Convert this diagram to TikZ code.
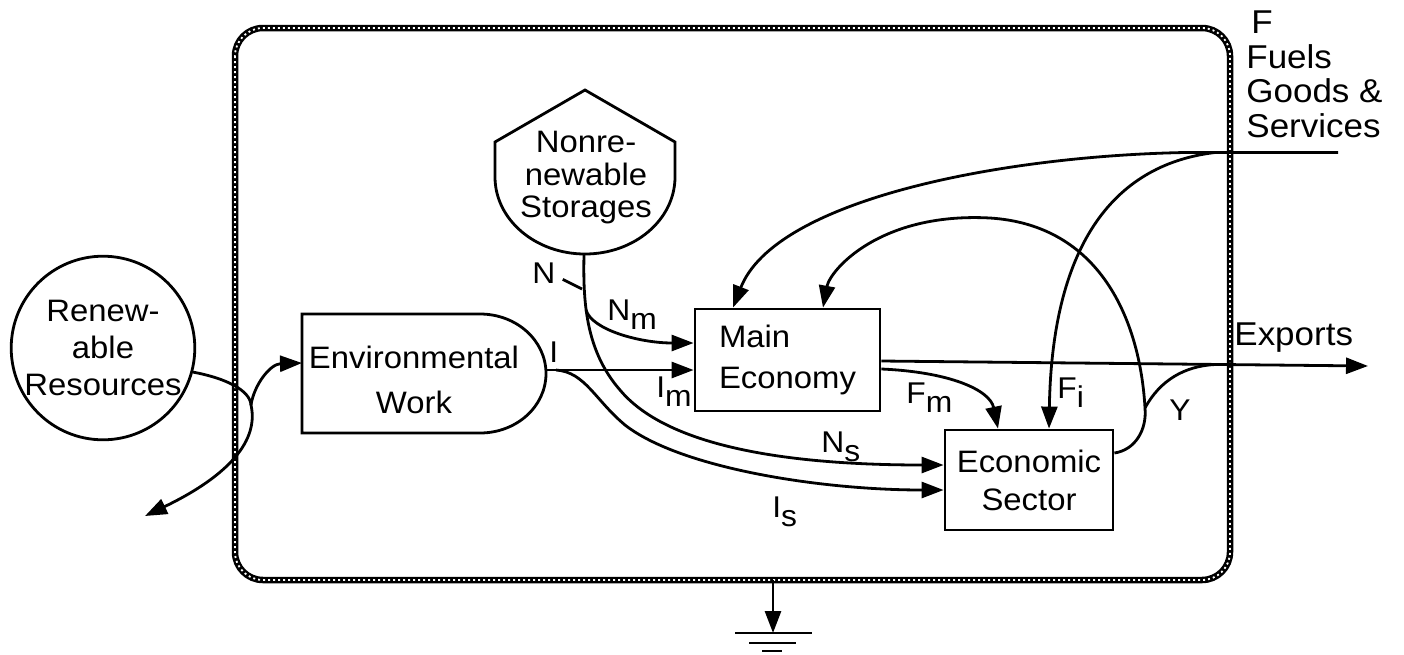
\documentclass[tikz,border=0pt]{standalone}
\usepackage{fontspec}
\setmainfont{Liberation Sans}[FakeStretch=1.06]
\usetikzlibrary{arrows.meta}
\newcommand{\lowsub}[1]{\raisebox{-0.33em}{#1}}
\begin{document}
\begin{tikzpicture}[x=1pt,y=-1pt,line width=2.8pt,
  flow/.style={-{Triangle[length=22pt,width=16pt]}},
  box/.style={draw,rectangle,inner sep=0pt},
  lbl/.style={font=\fontsize{30}{36}\selectfont,inner sep=0pt,anchor=base west},
  outlbl/.style={font=\fontsize{33}{36}\selectfont,inner sep=0pt,anchor=base west},
  fence/.style={line width=6.5pt,rounded corners=28pt},
  fencegap/.style={white,line width=1.8pt,dash pattern=on 2pt off 3pt,rounded corners=28pt}]
\useasboundingbox (0,0) rectangle (1404,654);

% system boundary
\draw[fence] (235,28) rectangle (1230,580);
\draw[fencegap] (235,28) rectangle (1230,580);

% sources, tanks and units
\node[circle,draw,minimum size=182pt,inner sep=0pt,align=center,
      font=\fontsize{31}{37}\selectfont] (ren) at (103,348) {Renew-\\able\\Resources};

\draw (480,314) -- (302,314) -- (302,433) -- (480,433)
  .. controls (516.5,433) and (546,406.5) .. (546,373.5)
  .. controls (546,340.5) and (516.5,314) .. (480,314) -- cycle;
\node[align=center,font=\fontsize{31}{45}\selectfont] (env) at (414,380) {Environmental\\Work};
\coordinate (envIn) at (302,363);
\coordinate (envE) at (546,370);

\draw (495,142) -- (585,90) -- (675,142) -- (675,177)
  .. controls (675,219.5) and (634.7,254) .. (585,254)
  .. controls (535.3,254) and (495,219.5) .. (495,177) -- cycle;
\node[align=center,font=\fontsize{31}{32.5}\selectfont] (stor) at (586,178) {Nonre-\\newable\\Storages};
\coordinate (storB) at (584,254);

\node[box,minimum width=185pt,minimum height=102pt,align=left,
      font=\fontsize{31}{41}\selectfont] (main) at (787.5,360) {Main\\Economy};
\node[box,minimum width=168pt,minimum height=100pt,align=center,
      font=\fontsize{31}{38}\selectfont] (econ) at (1029,480) {Economic\\Sector};

% free ends and branch points
\coordinate (back) at (145,516);
\coordinate (rsplit) at (251,405);
\coordinate (Isplit) at (556,370);
\coordinate (Nsplit) at (586,310);
\coordinate (Ntick) at (582,289);
\coordinate (Ysplit) at (1145,408);
\coordinate (Yjoin) at (1215,364.5);
\coordinate (Fin) at (1338,152.5);
\coordinate (Fjoin) at (1215,152.5);
\coordinate (exp) at (1368,366);
\coordinate (sink) at (773,580);
\coordinate (gnd) at (773,633);

% renewable inflow and its reflected part
\draw (ren.-15) .. controls (225,378) and (250,390) .. (rsplit);
\draw[flow] (rsplit) .. controls (260,445) and (220,480) .. (back);
\draw[flow] (rsplit) .. controls (254,385) and (270,364) .. (envIn);

% environmental work I
\draw[flow] (envE) -- ([yshift=-10pt]main.west);
\draw[flow] (Isplit) .. controls (585,372) and (595,400) .. (625,425)
  .. controls (680,468) and (820,490) .. ([yshift=-10pt]econ.west);

% nonrenewable N
\draw[flow] (storB) .. controls (583,300) and (585,350) .. (620,390)
  .. controls (670,450) and (800,465) .. ([yshift=15pt]econ.west);
\draw[flow] (Nsplit) .. controls (592,330) and (640,343) .. ([yshift=17pt]main.west);

% purchased inputs F
\draw[flow] (Fin) -- (1185,152.5) .. controls (1000,156) and (775,200) .. ([xshift=-54.5pt]main.north);
\draw[flow] (Fjoin) .. controls (1110,165) and (1052,250) .. ([xshift=20pt]econ.north);

% main economy outputs
\draw[flow] ([yshift=-1pt]main.east) -- (exp);
\draw[flow] ([yshift=-9pt]main.east) .. controls (950,372) and (990,390) .. ([xshift=-31pt]econ.north);

% sector feedback and yield
\draw ([yshift=27pt]econ.east) .. controls (1135,450) and (1147,430) .. (Ysplit);
\draw[flow] (Ysplit) .. controls (1140,320) and (1100,225) .. (990,218)
  .. controls (880,212) and (830,270) .. ([xshift=35.5pt]main.north);
\draw (Ysplit) .. controls (1160,380) and (1185,366) .. (Yjoin);

% heat sink
\draw[flow] (sink) -- (gnd);
\draw ([xshift=-38pt]gnd) -- ([xshift=39pt]gnd);
\draw ([shift={(-24pt,-10pt)}]gnd) -- ([shift={(23pt,-10pt)}]gnd);
\draw ([shift={(-11pt,-18pt)}]gnd) -- ([shift={(9pt,-18pt)}]gnd);

% flow labels
\node[lbl] (Nl) at (531,283) {N};
\draw ([shift={(6pt,5pt)}]Nl.south east) -- (Ntick);
\node[lbl] (Il) at (548,362) {I};
\node[lbl] (Nml) at (606,320) {N\lowsub{m}};
\node[lbl] (Iml) at (655,397) {I\lowsub{m}};
\node[lbl] (Nsl) at (820,452) {N\lowsub{s}};
\node[lbl] (Isl) at (771,517) {I\lowsub{s}};
\node[lbl] (Fml) at (905,403) {F\lowsub{m}};
\node[lbl] (Fil) at (1056,398) {F\lowsub{i}};
\node[lbl] (Yl) at (1168,420) {Y};
\node[outlbl] (expl) at (1233,345) {Exports};
\node[outlbl] (Fl) at (1250,33) {F};
\node[outlbl] (Fl1) at (1245,68) {Fuels};
\node[outlbl] (Fl2) at (1245,102) {Goods \&};
\node[outlbl] (Fl3) at (1245,137) {Services};
\end{tikzpicture}
\end{document}
